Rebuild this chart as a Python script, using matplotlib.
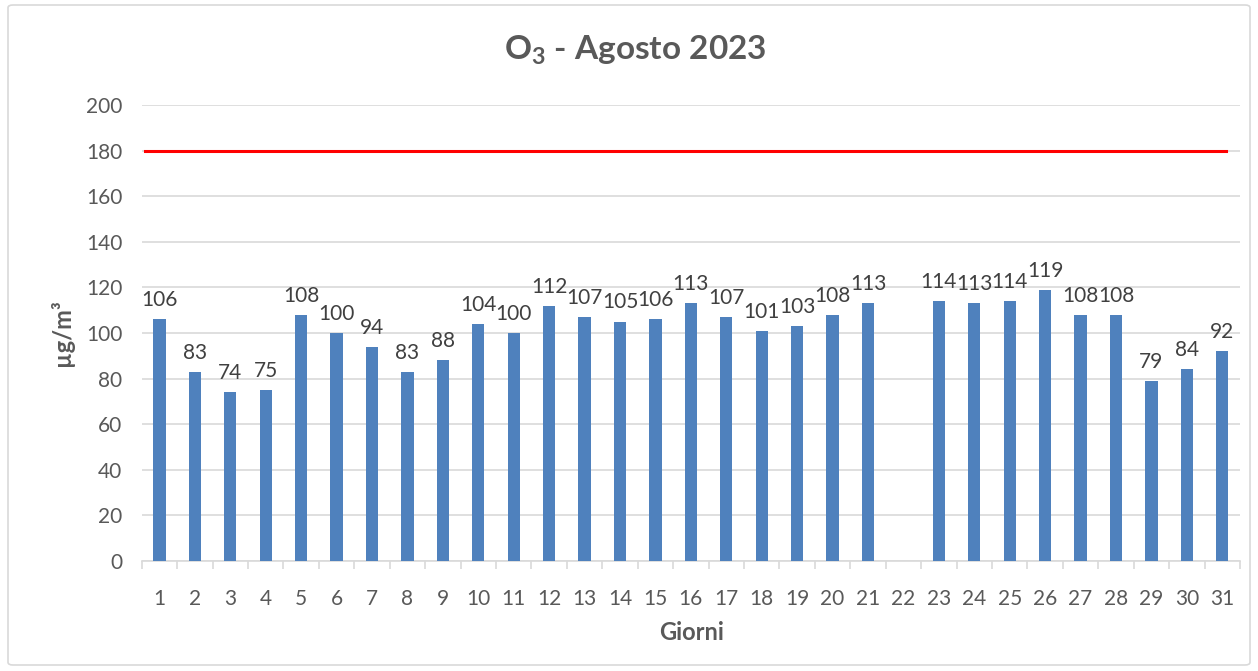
import matplotlib
matplotlib.use("Agg")
import matplotlib.pyplot as plt
import numpy as np
from matplotlib.patches import FancyBboxPatch

days = list(range(1, 32))
values = [106, 83, 74, 75, 108, 100, 94, 83, 88, 104, 100, 112, 107, 105, 106, 113,
          107, 101, 103, 108, 113, np.nan, 114, 113, 114, 119, 108, 108, 79, 84, 92]
limit = 180
title = r"$\mathbf{O_3}$ - Agosto 2023"
ylabel = "µg/m³"
xlabel = "Giorni"

plt.rcParams['font.family'] = ['Lato', 'DejaVu Sans']
plt.rcParams['mathtext.fontset'] = 'custom'
plt.rcParams['mathtext.rm'] = 'Lato'
plt.rcParams['mathtext.bf'] = 'Lato:bold'
txt = '#595959'

fig = plt.figure(figsize=(12.58, 6.71), dpi=100)
fig.patches.append(FancyBboxPatch((8/1258, 6/671), 1242/1258, 660/671,
                                  boxstyle="round,pad=0,rounding_size=0.004",
                                  transform=fig.transFigure, facecolor='white',
                                  edgecolor='#D9D9D9', linewidth=1.2, zorder=-10))
ax = fig.add_axes([141.7/1258, 1-561/671, (1240-141.7)/1258, (561-105)/671])
ax.set_facecolor('none')

x = np.arange(len(days))
ax.bar(x, values, width=0.35, color='#4F81BD', zorder=3)
for xi, v in zip(x, values):
    if not np.isnan(v):
        ax.text(xi, v + 4, f"{int(v)}", ha='center', va='bottom', fontsize=15, color='#404040', zorder=4)

ax.axhline(limit, xmin=0.003, xmax=0.9875, color='#FF0000', linewidth=2.2, zorder=3)

ax.set_xlim(-0.5, len(days) - 0.5)
ax.set_ylim(0, 200)
ax.set_yticks(range(0, 201, 20))
ax.yaxis.grid(True, color='#D9D9D9', linewidth=1.2, zorder=0)
ax.set_xticks(x)
ax.set_xticklabels([str(d) for d in days])
ax.set_xticks(np.arange(-0.5, len(days), 1), minor=True)
ax.tick_params(axis='x', which='major', length=0, pad=20, labelsize=15, labelcolor=txt)
ax.tick_params(axis='x', which='minor', length=6, color='#D9D9D9', width=1.2)
ax.tick_params(axis='y', length=0, pad=14, labelsize=15, labelcolor=txt)
for s in ['top', 'right', 'left']:
    ax.spines[s].set_visible(False)
ax.spines['bottom'].set_color('#D9D9D9')
ax.spines['bottom'].set_linewidth(1.2)

fig.text(635/1258, 1-50/671, title, ha='center', va='center', fontsize=24, fontweight='bold', color=txt)
fig.text(62/1258, 1-333/671, ylabel, ha='center', va='center', rotation=90, fontsize=17, fontweight='bold', color=txt)
fig.text(692/1258, 1-632/671, xlabel, ha='center', va='center', fontsize=17, fontweight='bold', color=txt)

fig.savefig('out.png', dpi=100)
